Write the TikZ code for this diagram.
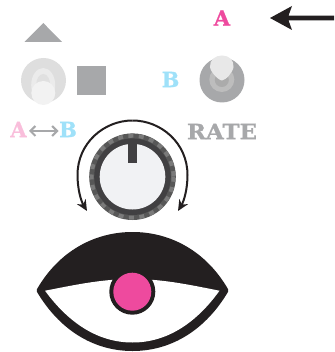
\documentclass[tikz,border=0pt]{standalone}
\usepackage{fontspec}
\setmainfont{DejaVu Serif}[BoldFont={DejaVu Serif Bold},BoldFeatures={FakeBold=1}]
\usetikzlibrary{arrows.meta}
\definecolor{ink}{HTML}{231F20}
\definecolor{mag}{HTML}{EE4A9E}
\definecolor{pinkl}{HTML}{F9BEDB}
\definecolor{bluel}{HTML}{9FE1F9}
\definecolor{grayb}{HTML}{A7A8AA}
\definecolor{grayd}{HTML}{414042}
\definecolor{dialface}{HTML}{F1F2F4}
\tikzset{
  lbl/.style={inner sep=0pt,font=\bfseries\fontsize{21}{21}\selectfont}
}
\begin{document}
\begin{tikzpicture}[x=1pt,y=-1pt]
\useasboundingbox (0,0) rectangle (334,352);
% top left
\fill[grayb] (43.3,23) -- (62,42) -- (24.5,42) -- cycle;
\fill[grayb] (77,66) rectangle (106,95);
\fill[black!13] (43.5,80.5) circle (22.5);
\fill[black!8] (43.2,85) ellipse (12 and 17);
\fill[black!12] (43.2,85) ellipse (7 and 11);
\fill[black!5] (43.3,93) circle (12);
% labels
\node[lbl,text=pinkl] (aL) at (18.5,129.5) {A};
\node[lbl,text=bluel] (bL) at (68,129.5) {B};
\coordinate (pL) at (29,131);
\coordinate (pR) at (58.5,131);
\draw[grayb,line width=2pt,{Straight Barb[length=5pt,width=10pt]}-{Straight Barb[length=5pt,width=10pt]}] (pL) -- (pR);
\node[lbl,text=mag] (aR) at (222,18) {A};
\node[lbl,text=bluel] (bR) at (170.5,79.5) {B};
\node[lbl,text=grayb] (rate) at (222,131.5) {\scalebox{1.09}[1]{RATE}};
% top right arrow
\fill[ink] (334,15.7) -- (288.5,15.7) -- (292,6) -- (270,18) -- (292,30) -- (288.5,20.3) -- (334,20.3) -- cycle;
% right knob
\fill[grayb] (222,80) circle (22.5);
\fill[black!26] (221.8,79.5) circle (12.5);
\fill[black!33] (221.8,80) circle (7);
\fill[black!9] (222,55.5) .. controls (229,55.5) and (234,60) .. (233.5,67) .. controls (233,72) and (226,80) .. (222,80.5) .. controls (218,80) and (210.5,72) .. (210,67) .. controls (209.5,60) and (215,55.5) .. (222,55.5) -- cycle;
% dial
\fill[black!66] (132.5,176.7) circle (43.3);
\draw[black!52,line width=4pt,dash pattern=on 5pt off 5.5pt] (132.5,176.7) circle (41);
\fill[grayd] (132.5,176.7) circle (38.3);
\fill[dialface] (132.5,176.7) circle (32.8);
\fill[grayd] (128.3,141) rectangle (136.5,163);
% dial arrows
\coordinate (arcL) at (87,211);
\coordinate (arcR) at (178,211);
\draw[ink,line width=2pt,-{Stealth[length=11pt,width=10pt]}] (132.5,120.5) .. controls (104,120.5) and (77.5,143) .. (77.5,175) .. controls (77.5,189) and (81,201) .. (arcL);
\draw[ink,line width=2pt,-{Stealth[length=11pt,width=10pt]}] (132.5,120.5) .. controls (161,120.5) and (187.5,143) .. (187.5,175) .. controls (187.5,189) and (184,201) .. (arcR);
% eye
\filldraw[ink,line width=4pt,line join=round] (38.5,290.5) .. controls (60,253) and (95,234) .. (132.5,234) .. controls (170,234) and (205,253) .. (226.5,290.5) .. controls (205,327) and (172,349) .. (132.5,349) .. controls (93,349) and (60,327) .. (38.5,290.5) -- cycle;
\fill[white] (45,290.7) .. controls (70,286) and (100,279) .. (132.5,279) .. controls (165,279) and (195,286) .. (219.5,290.7) .. controls (197,322) and (168,342.5) .. (132.5,342.5) .. controls (97,342.5) and (68,322) .. (45,290.7) -- cycle;
\fill[ink] (132.3,291.7) circle (23);
\fill[mag] (132.3,291.7) circle (19);
\end{tikzpicture}
\end{document}
